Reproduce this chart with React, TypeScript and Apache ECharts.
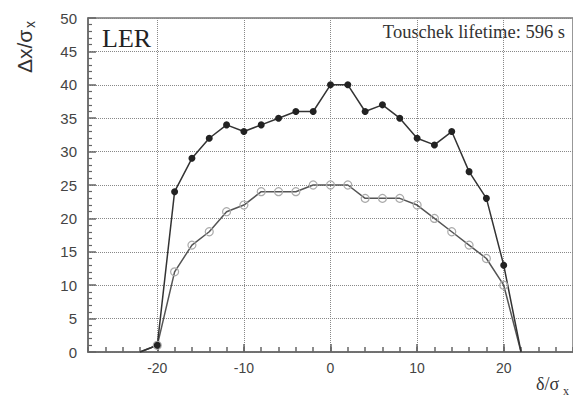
import React, { useEffect, useRef } from 'react';
import * as echarts from 'echarts';

// delta / sigma_x
const deltaValues = [-22, -20, -18, -16, -14, -12, -10, -8, -6, -4, -2, 0, 2, 4, 6, 8, 10, 12, 14, 16, 18, 20, 22];
// filled markers
const filledValues = [0, 1, 24, 29, 32, 34, 33, 34, 35, 36, 36, 40, 40, 36, 37, 35, 32, 31, 33, 27, 23, 13, 0];
// open markers
const openValues = [0, 1, 12, 16, 18, 21, 22, 24, 24, 24, 25, 25, 25, 23, 23, 23, 22, 20, 18, 16, 14, 10, 0];
const xTickValues = [-20, -10, 0, 10, 20];

const buildData = (ys: number[]) =>
  deltaValues.map((x, i) => {
    const item: any = { value: [x, ys[i]] };
    if (i === 0 || i === deltaValues.length - 1) item.symbol = 'none';
    return item;
  });

export default function App() {
  const ref = useRef<HTMLDivElement>(null);
  useEffect(() => {
    if (!ref.current) return;
    const chart = echarts.init(ref.current, null, { renderer: 'svg' });
    const axisColor = '#666';
    const labelStyle = { color: '#444', fontFamily: 'Liberation Sans, Arial, sans-serif', fontSize: 14 };
    chart.setOption({
      animation: false,
      backgroundColor: '#fff',
      grid: { left: 88, right: 0, top: 18, bottom: 45, show: true, borderColor: '#777', borderWidth: 1.5 },
      xAxis: [
        {
          type: 'value', min: -28, max: 28, position: 'bottom',
          axisLine: { show: true, onZero: false, lineStyle: { color: axisColor, width: 1.5 } },
          axisTick: { show: true, inside: true, length: 8, customValues: xTickValues, lineStyle: { color: axisColor, width: 1.5 } },
          axisLabel: { ...labelStyle, customValues: xTickValues, margin: 9 },
          splitLine: { show: true, lineStyle: { type: 'dotted', color: '#888', width: 1 } },
        },
        {
          type: 'value', min: -28, max: 28, interval: 2, position: 'bottom',
          axisLine: { show: false },
          axisTick: { show: true, inside: true, length: 5, lineStyle: { color: axisColor, width: 1.5 } },
          axisLabel: { show: false },
          splitLine: { show: false },
        },
      ],
      yAxis: {
        type: 'value', min: 0, max: 50, interval: 5,
        axisLine: { show: true, onZero: false, lineStyle: { color: axisColor, width: 1.5 } },
        axisTick: { show: true, inside: true, length: 8, lineStyle: { color: axisColor, width: 1.5 } },
        minorTick: { show: true, splitNumber: 5, length: 4, lineStyle: { color: axisColor, width: 1.2 } },
        axisLabel: { ...labelStyle, fontSize: 15, margin: 11 },
        splitLine: { show: true, lineStyle: { type: 'dotted', color: '#888', width: 1 } },
      },
      series: [
        {
          name: 'open', type: 'line', xAxisIndex: 0, data: buildData(openValues),
          symbol: 'circle', symbolSize: 8,
          lineStyle: { color: '#555', width: 1.5 },
          itemStyle: { color: 'rgba(255,255,255,0)', borderColor: '#aaa', borderWidth: 1.2 },
        },
        {
          name: 'filled', type: 'line', xAxisIndex: 0, data: buildData(filledValues),
          symbol: 'circle', symbolSize: 7,
          lineStyle: { color: '#333', width: 1.5 },
          itemStyle: { color: '#222', borderColor: '#222', borderWidth: 0 },
        },
      ],
      graphic: [
        { type: 'text', left: 102, top: 25, style: { text: 'LER', fontSize: 26, fontFamily: 'Liberation Serif, Times New Roman, serif', fill: '#222' } },
        { type: 'text', right: 8, top: 22, style: { text: 'Touschek lifetime: 596 s', fontSize: 18.5, fontFamily: 'Liberation Serif, Times New Roman, serif', fill: '#333' } },
        {
          type: 'group', x: 24, y: 73, rotation: Math.PI / 2,
          children: [
            { type: 'text', x: 0, y: 0, style: { text: 'Δx/σ', fontSize: 21, fontFamily: 'Liberation Sans, Arial, sans-serif', fill: '#333', verticalAlign: 'middle', align: 'left' } },
            { type: 'text', x: 45, y: 6, style: { text: 'x', fontSize: 14, fontFamily: 'Liberation Sans, Arial, sans-serif', fill: '#333', verticalAlign: 'middle', align: 'left' } },
          ],
        },
        { type: 'text', x: 536, y: 393, style: { text: 'δ/σ', fontSize: 18, fontFamily: 'Liberation Serif, Times New Roman, serif', fill: '#333', verticalAlign: 'bottom' } },
        { type: 'text', x: 563, y: 397, style: { text: 'x', fontSize: 12, fontFamily: 'Liberation Serif, Times New Roman, serif', fill: '#333', verticalAlign: 'bottom' } },
      ],
    });
    return () => chart.dispose();
  }, []);
  return <div ref={ref} style={{ position: 'absolute', left: 0, top: 0, width: 573, height: 397 }} />;
}
